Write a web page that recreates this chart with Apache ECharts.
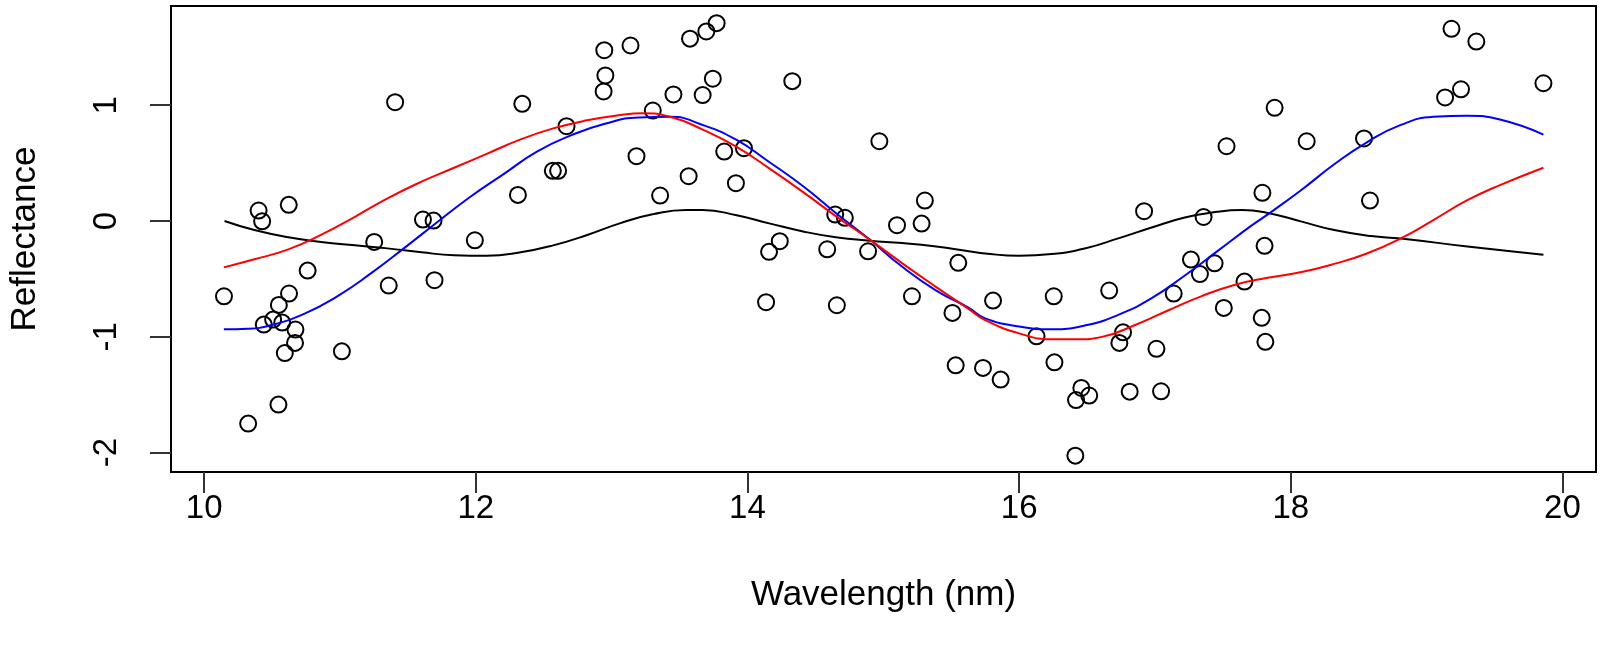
<!DOCTYPE html>
<html>
<head>
<meta charset="utf-8">
<script src="https://cdn.jsdelivr.net/npm/echarts@6/dist/echarts.min.js"></script>
<style>
html,body{margin:0;padding:0;background:#fff;}
#chart{width:1601px;height:651px;}
</style>
</head>
<body>
<div id="chart"></div>
<script>
// Tick labels
const xTicks = [10, 12, 14, 16, 18, 20];
const yTicks = [-2, -1, 0, 1];

// Observed points: wavelength (nm), reflectance
const pointsX = [
10.146,10.324,10.401,10.427,10.439,10.508,10.550,10.575,10.547,10.594,
10.623,10.625,10.672,10.669,10.762,11.014,11.252,11.359,11.406,11.611,
11.689,11.696,11.993,12.310,12.342,12.567,12.606,12.668,12.946,12.954,
12.941,13.139,13.183,13.303,13.357,13.455,13.567,13.577,13.670,13.697,
13.745,13.773,13.829,13.915,13.974,14.137,14.159,14.238,14.330,14.587,
14.646,14.658,14.717,14.888,14.971,15.101,15.211,15.282,15.306,15.509,
15.533,15.552,15.734,15.808,15.864,16.128,16.255,16.260,16.414,16.419,
16.458,16.516,16.663,16.738,16.765,16.814,16.920,17.011,17.045,17.138,
17.265,17.331,17.358,17.439,17.507,17.527,17.659,17.786,17.791,17.807,
17.813,17.881,18.117,18.539,18.583,19.136,19.183,19.253,19.366,19.860
];
const pointsY = [
-0.650,-1.749,0.091,-0.002,-0.894,-0.851,-0.724,-0.877,-1.585,-1.140,
0.140,-0.626,-0.937,-1.052,-0.428,-1.125,-0.180,-0.557,1.026,0.013,
0.004,-0.511,-0.166,0.226,1.012,0.434,0.434,0.819,1.475,1.257,
1.119,1.516,0.560,0.954,0.220,1.093,0.387,1.575,1.088,1.637,
1.229,1.709,0.600,0.327,0.629,-0.701,-0.266,-0.174,1.208,-0.244,
0.056,-0.727,0.028,-0.261,0.689,-0.036,-0.650,-0.022,0.177,-0.793,
-1.246,-0.361,-1.268,-0.687,-1.369,-0.995,-0.650,-1.220,-2.026,-1.546,
-1.441,-1.507,-0.600,-1.052,-0.961,-1.473,0.085,-1.103,-1.470,-0.626,
-0.333,-0.458,0.035,-0.365,-0.750,0.646,-0.523,-0.836,0.244,-0.214,
-1.043,0.978,0.689,0.713,0.177,1.067,1.660,1.138,1.550,1.190
];

// Fitted curves
const blackX = [10.15,10.37,10.62,10.86,11.11,11.35,11.60,11.84,12.08,12.33,12.57,12.82,13.06,13.31,13.55,13.67,13.92,14.16,14.41,14.65,14.90,15.14,15.39,15.63,15.75,16.00,16.24,16.49,16.73,16.97,17.22,17.46,17.64,17.83,18.08,18.32,18.59,18.81,19.30,19.86];
const blackY = [0.0,-0.078,-0.14,-0.18,-0.21,-0.236,-0.27,-0.295,-0.30,-0.27,-0.21,-0.12,-0.02,0.06,0.095,0.095,0.05,-0.02,-0.09,-0.14,-0.17,-0.19,-0.22,-0.26,-0.28,-0.30,-0.285,-0.235,-0.15,-0.058,0.03,0.08,0.095,0.07,-0.005,-0.078,-0.13,-0.15,-0.22,-0.29];

const redX = [10.145,10.37,10.62,10.86,11.11,11.35,11.60,11.84,12.08,12.33,12.57,12.82,13.06,13.23,13.43,13.67,13.92,14.16,14.41,14.65,14.90,15.14,15.39,15.63,15.75,16.00,16.24,16.44,16.61,16.85,17.10,17.34,17.59,17.83,18.08,18.32,18.56,18.81,19.05,19.30,19.54,19.86];
const redY = [-0.40,-0.33,-0.245,-0.12,0.037,0.196,0.34,0.46,0.58,0.705,0.80,0.87,0.915,0.93,0.90,0.79,0.64,0.455,0.25,0.043,-0.16,-0.365,-0.57,-0.76,-0.855,-0.97,-1.02,-1.02,-1.0,-0.90,-0.77,-0.65,-0.55,-0.49,-0.44,-0.37,-0.28,-0.15,0.009,0.18,0.31,0.46];

const blueX = [10.145,10.32,10.49,10.74,10.98,11.23,11.47,11.72,11.96,12.21,12.45,12.70,12.95,13.20,13.43,13.67,13.92,14.16,14.41,14.65,14.90,15.14,15.39,15.63,15.75,16.00,16.24,16.49,16.73,16.97,17.22,17.46,17.71,17.87,18.08,18.32,18.56,18.81,19.05,19.30,19.54,19.86];
const blueY = [-0.935,-0.93,-0.90,-0.80,-0.65,-0.45,-0.236,-0.006,0.21,0.41,0.60,0.74,0.84,0.895,0.90,0.83,0.70,0.51,0.30,0.07,-0.16,-0.395,-0.60,-0.75,-0.84,-0.91,-0.935,-0.90,-0.81,-0.67,-0.47,-0.26,-0.04,0.09,0.27,0.49,0.68,0.83,0.90,0.91,0.877,0.747];

const zip = (a, b) => a.map((v, i) => [v, b[i]]);
const FONT = "'Liberation Sans', Arial, sans-serif";

const chart = echarts.init(document.getElementById('chart'), null, {renderer: 'canvas'});
chart.setOption({
  animation: false,
  backgroundColor: '#fff',
  grid: {left: 166, right: 5, top: 6, bottom: 179, show: true, borderColor: '#000', borderWidth: 2, backgroundColor: 'transparent'},
  xAxis: {
    type: 'value', min: 9.756, max: 20.247,
    name: 'Wavelength (nm)', nameLocation: 'middle', nameGap: 106,
    nameTextStyle: {fontFamily: FONT, fontSize: 35, color: '#000'},
    axisLine: {show: false, onZero: false},
    splitLine: {show: false},
    axisTick: {show: true, inside: false, length: 21, customValues: xTicks, lineStyle: {color: '#333', width: 2}},
    axisLabel: {customValues: xTicks, fontFamily: FONT, fontSize: 33, color: '#000', margin: 20}
  },
  yAxis: {
    type: 'value', min: -2.167, max: 1.857,
    name: 'Reflectance', nameLocation: 'middle', nameGap: 128, nameRotate: 90,
    nameTextStyle: {fontFamily: FONT, fontSize: 35, color: '#000'},
    axisLine: {show: false, onZero: false},
    splitLine: {show: false},
    axisTick: {show: true, inside: false, length: 21, customValues: yTicks, lineStyle: {color: '#333', width: 2}},
    axisLabel: {customValues: yTicks, rotate: 90, fontFamily: FONT, fontSize: 33, color: '#000', margin: 48}
  },
  series: [
    {type: 'scatter', data: zip(pointsX, pointsY), symbol: 'circle', symbolSize: 16, z: 2,
     itemStyle: {color: 'rgba(255,255,255,0)', borderColor: '#000', borderWidth: 2, opacity: 1}},
    {type: 'line', data: zip(blackX, blackY), smooth: true, showSymbol: false, z: 3, lineStyle: {color: '#000', width: 2}},
    {type: 'line', data: zip(blueX, blueY), smooth: true, showSymbol: false, z: 3, lineStyle: {color: '#0000ff', width: 2}},
    {type: 'line', data: zip(redX, redY), smooth: true, showSymbol: false, z: 3, lineStyle: {color: '#ff0000', width: 2}}
  ]
});
</script>
</body>
</html>
